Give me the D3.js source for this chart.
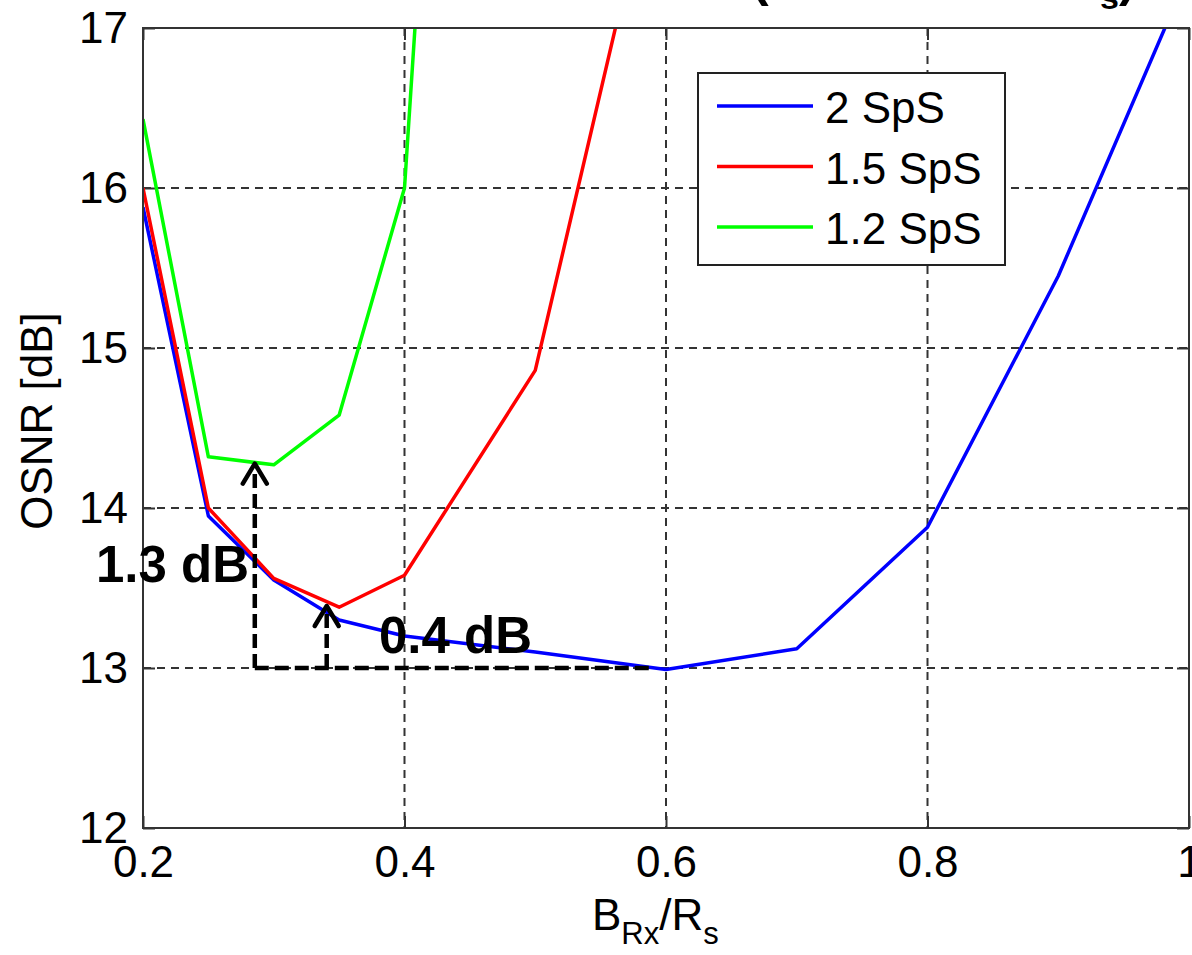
<!DOCTYPE html>
<html lang="en">
    <head>
        <meta charset="utf-8">
        <title>OSNR vs receiver bandwidth</title>
        <script type="text/javascript" src="https://d3js.org/d3.v7.min.js"></script>
        <style>
          body { margin: 0; background: #fff; }
        </style>
    </head>
    <body>
        <script type="text/javascript">
          // values
          const bwRatio2 = [0.2, 0.25, 0.3, 0.35, 0.4, 0.5, 0.6, 0.7, 0.8, 0.9, 1.0]
          const osnr2 = [15.88, 13.95, 13.55, 13.3, 13.2, 13.1, 12.99, 13.12, 13.88, 15.45, 17.35]
          const bwRatio15 = [0.2, 0.25, 0.3, 0.35, 0.4, 0.5, 0.6]
          const osnr15 = [16.0, 14.0, 13.56, 13.38, 13.58, 14.86, 18.35]
          const bwRatio12 = [0.2, 0.25, 0.3, 0.35, 0.4, 0.5]
          const osnr12 = [16.43, 14.32, 14.27, 14.58, 16.0, 28.5]
          const seriesNames = ["2 SpS", "1.5 SpS", "1.2 SpS"]
          const seriesColors = ["#0000ff", "#ff0000", "#00ff00"]
          const xTicks = [0.2, 0.4, 0.6, 0.8, 1]
          const yTicks = [12, 13, 14, 15, 16, 17]
          // annotation: arrows from the 2 SpS minimum up to the other minima
          const arrowX = [0.2855, 0.3405]
          const arrowTop = [14.29, 13.4]
          const baseLevel = 13
          const baseEnd = 0.59
          const noteText = ["1.3 dB", "0.4 dB"]

          const w = 1192, h = 955
          const pLeft = 143, pRight = 1189, pTop = 28, pBottom = 828

          const svg = d3.select("body").append("svg")
                        .attr("width", w).attr("height", h)
                        .style("font-family", "'Liberation Sans', Arial, sans-serif")

          const x = d3.scaleLinear().domain([0.2, 1]).range([pLeft, pRight])
          const y = d3.scaleLinear().domain([12, 17]).range([pBottom, pTop])

          svg.append("clipPath").attr("id", "plot")
             .append("rect").attr("x", pLeft).attr("y", pTop)
             .attr("width", pRight - pLeft).attr("height", pBottom - pTop)

          // dashed grid
          const grid = svg.append("g").attr("stroke", "#333").attr("stroke-width", 2)
                          .attr("stroke-dasharray", "8,6")
          grid.selectAll(".gx").data(xTicks.slice(1, -1)).enter().append("line")
              .attr("x1", d => x(d)).attr("x2", d => x(d))
              .attr("y1", pTop).attr("y2", pBottom)
          grid.selectAll(".gy").data(yTicks.slice(1, -1)).enter().append("line")
              .attr("y1", d => y(d)).attr("y2", d => y(d))
              .attr("x1", pLeft).attr("x2", pRight)

          // axes, ticks pointing inside
          const styleAxis = (g) => {
            g.select(".domain").remove()
            g.selectAll(".tick line").attr("stroke", "#333").attr("stroke-width", 2)
            g.selectAll("text").attr("font-size", "44px").attr("fill", "#000")
              .attr("font-family", "'Liberation Sans', Arial, sans-serif")
          }
          svg.append("g").attr("transform", `translate(0,${pBottom})`)
             .call(d3.axisBottom(x).tickValues(xTicks).tickSize(-12).tickPadding(18).tickFormat(d3.format("")))
             .call(styleAxis)
          svg.append("g").attr("transform", `translate(0,${pTop})`)
             .call(d3.axisTop(x).tickValues(xTicks).tickSize(-12).tickFormat(""))
             .call(styleAxis)
          svg.append("g").attr("transform", `translate(${pLeft},0)`)
             .call(d3.axisLeft(y).tickValues(yTicks).tickSize(-12).tickPadding(15).tickFormat(d3.format("d")))
             .call(styleAxis)
          svg.append("g").attr("transform", `translate(${pRight},0)`)
             .call(d3.axisRight(y).tickValues(yTicks).tickSize(-12).tickFormat(""))
             .call(styleAxis)

          // data lines
          const line = d3.line().x(d => x(d[0])).y(d => y(d[1]))
          const series = [
            d3.zip(bwRatio2, osnr2),
            d3.zip(bwRatio15, osnr15),
            d3.zip(bwRatio12, osnr12)
          ]
          svg.append("g").attr("clip-path", "url(#plot)")
             .selectAll("path").data(series).enter().append("path")
             .attr("d", line)
             .attr("fill", "none")
             .attr("stroke", (d, i) => seriesColors[i])
             .attr("stroke-width", 3.5)
             .attr("stroke-linejoin", "round")

          // frame
          svg.append("rect").attr("x", pLeft).attr("y", pTop)
             .attr("width", pRight - pLeft).attr("height", pBottom - pTop)
             .attr("fill", "none").attr("stroke", "#333").attr("stroke-width", 2)

          // annotation
          const ann = svg.append("g").attr("stroke", "#000").attr("stroke-width", 4.5).attr("fill", "none")
          ann.append("line")
             .attr("x1", x(arrowX[0])).attr("x2", x(baseEnd))
             .attr("y1", y(baseLevel)).attr("y2", y(baseLevel))
             .attr("stroke-dasharray", "14,6")
          arrowX.forEach((ax, i) => {
            ann.append("line")
               .attr("x1", x(ax)).attr("x2", x(ax))
               .attr("y1", y(baseLevel)).attr("y2", y(arrowTop[i]) + 3)
               .attr("stroke-dasharray", "14,6")
            ann.append("path")
               .attr("d", `M${x(ax) - 12},${y(arrowTop[i]) + 22}L${x(ax)},${y(arrowTop[i]) + 2}L${x(ax) + 12},${y(arrowTop[i]) + 22}`)
               .attr("stroke-linecap", "round").attr("stroke-linejoin", "round")
          })
          svg.selectAll(".note").data(noteText).enter().append("text")
             .attr("x", (d, i) => i === 0 ? 96 : 379)
             .attr("y", (d, i) => i === 0 ? 582 : 653)
             .attr("font-size", "51px").attr("font-weight", "bold")
             .text(d => d)

          // legend
          const lg = svg.append("g")
          lg.append("rect").attr("x", 698).attr("y", 73).attr("width", 307).attr("height", 192)
            .attr("fill", "#fff").attr("stroke", "#222").attr("stroke-width", 2)
          seriesNames.forEach((name, i) => {
            const ly = 106 + i * 60.5
            lg.append("line").attr("x1", 717).attr("x2", 813).attr("y1", ly).attr("y2", ly)
              .attr("stroke", seriesColors[i]).attr("stroke-width", 3.5)
            lg.append("text").attr("x", 825).attr("y", ly + 17)
              .attr("font-size", "44px").text(name)
          })

          // axis labels
          svg.append("text")
             .attr("transform", "translate(52,421) rotate(-90)")
             .attr("text-anchor", "middle").attr("font-size", "44px")
             .text("OSNR [dB]")
          const xl = svg.append("text").attr("x", 592).attr("y", 930).attr("font-size", "44px")
          xl.append("tspan").text("B")
          xl.append("tspan").attr("font-size", "31px").attr("dy", 14).text("Rx")
          xl.append("tspan").attr("dy", -14).text("/R")
          xl.append("tspan").attr("font-size", "31px").attr("dy", 14).text("s")

          // title, cut off by the top edge
          const tt = svg.append("g").attr("font-weight", "bold")
          tt.append("text").attr("x", 752).attr("y", -4).attr("font-size", "50px").text("(")
          tt.append("text").attr("x", 1100).attr("y", 9).attr("font-size", "34px").text("s")
          tt.append("text").attr("x", 1119).attr("y", -4).attr("font-size", "50px").text(")")
        </script>
    </body>
</html>
